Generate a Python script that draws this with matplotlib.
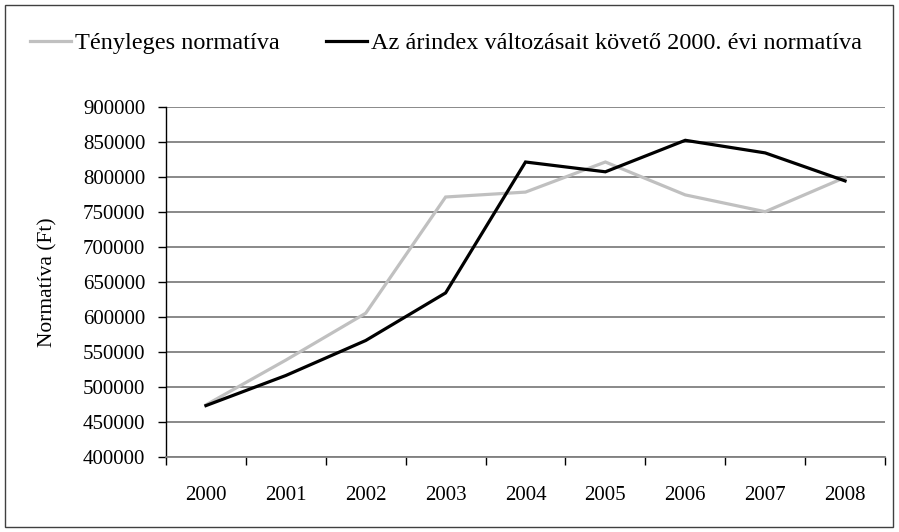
import matplotlib
matplotlib.use("Agg")
import matplotlib.pyplot as plt
from matplotlib.patches import Rectangle

# Data
years = ["2000", "2001", "2002", "2003", "2004", "2005", "2006", "2007", "2008"]
tenyleges = [474000, 538000, 605000, 771000, 778000, 821000, 774000, 750000, 799000]
arindex = [473000, 516000, 566000, 634000, 821000, 807000, 852000, 834000, 794000]
y_ticks = list(range(400000, 900001, 50000))

plt.rcParams['font.family'] = ['Liberation Serif', 'DejaVu Serif']

fig = plt.figure(figsize=(8.99, 5.32), dpi=100)
W, H = 899, 532
ax = fig.add_axes([166 / W, 1 - 456.7 / H, (885 - 166) / W, (456.7 - 106.7) / H])

x = list(range(len(years)))
l1, = ax.plot(x, tenyleges, color='#c0c0c0', lw=2.3, solid_joinstyle='miter')
l2, = ax.plot(x, arindex, color='black', lw=2.3, solid_joinstyle='miter')

ax.set_xlim(-0.5, len(years) - 0.5)
ax.set_ylim(400000, 900000)
ax.set_yticks(y_ticks)
ax.set_yticklabels([str(v) for v in y_ticks])
ax.set_xticks(x)
ax.set_xticklabels(years)
ax.set_xticks([i + 0.5 for i in range(-1, len(years))], minor=True)
ax.tick_params(axis='x', which='major', length=0, pad=21, labelsize=15)
ax.tick_params(axis='x', which='minor', length=6, width=1, direction='out')
ax.tick_params(axis='y', length=6, width=1, direction='out', pad=9, labelsize=15)

ax.grid(axis='y', color='#808080', lw=1.3)
ax.set_axisbelow(True)
for s in ['top', 'right']:
    ax.spines[s].set_visible(False)
ax.spines['left'].set_linewidth(1)
ax.spines['bottom'].set_color('#808080')
ax.spines['bottom'].set_linewidth(1.3)

ax.set_ylabel("Normatíva (Ft)", fontsize=15.5, labelpad=18)

fig.legend([l1, l2], ["Tényleges normatíva",
                      "Az árindex változásait követő 2000. évi normatíva"],
           loc='center left', bbox_to_anchor=(30 / W, 1 - 43 / H), ncol=2,
           frameon=False, fontsize=17.5, handlelength=1.7, handletextpad=0.15,
           columnspacing=1.9, borderpad=0, borderaxespad=0)

fig.patches.append(Rectangle((5 / W, 5 / H), 888 / W, 522 / H, transform=fig.transFigure,
                             fill=False, edgecolor='#404040', lw=1))

fig.savefig("out.png", dpi=100)
